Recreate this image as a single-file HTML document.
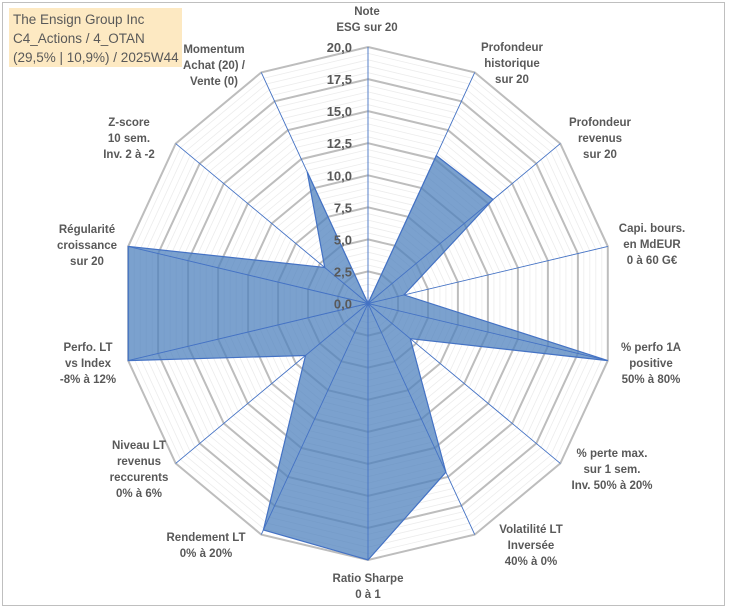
<!DOCTYPE html>
<html><head><meta charset="utf-8"><style>
html,body{margin:0;padding:0;background:#fff;}
body{width:729px;height:610px;position:relative;overflow:hidden;font-family:"Liberation Sans",Arial,sans-serif;}
#frame{position:absolute;left:2px;top:2px;width:723px;height:604px;border:1px solid #bfbfbf;box-sizing:border-box;}
#title{position:absolute;left:9px;top:8px;width:173px;height:59px;background:#fde9c2;color:#595959;font-size:13.5px;line-height:19px;padding:2px 0 0 4px;box-sizing:border-box;white-space:nowrap;font-family:"Liberation Sans Narrow","Liberation Sans",sans-serif;}
.lbl{position:absolute;transform:translateX(-50%);text-align:center;font-weight:bold;font-size:11.5px;line-height:16px;color:#595959;white-space:nowrap;}
</style></head><body>
<div id="frame"></div>
<svg id="chart" width="729" height="610" style="position:absolute;left:0;top:0"></svg>
<div id="title">The Ensign Group Inc<br>C4_Actions / 4_OTAN<br>(29,5% | 10,9%) / 2025W44</div>
<div class="lbl" style="left:367px;top:4px">Note<br>ESG sur 20</div>
<div class="lbl" style="left:512px;top:40px">Profondeur<br>historique<br>sur 20</div>
<div class="lbl" style="left:600px;top:115px">Profondeur<br>revenus<br>sur 20</div>
<div class="lbl" style="left:652px;top:221px">Capi. bours.<br>en MdEUR<br>0 à 60 G€</div>
<div class="lbl" style="left:651px;top:340px">% perfo 1A<br>positive<br>50% à 80%</div>
<div class="lbl" style="left:612px;top:446px">% perte max.<br>sur 1 sem.<br>Inv. 50% à 20%</div>
<div class="lbl" style="left:531px;top:522px">Volatilité LT<br>Inversée<br>40% à 0%</div>
<div class="lbl" style="left:368px;top:571px">Ratio Sharpe<br>0 à 1</div>
<div class="lbl" style="left:206px;top:530px">Rendement LT<br>0% à 20%</div>
<div class="lbl" style="left:139px;top:438px">Niveau LT<br>revenus<br>reccurents<br>0% à 6%</div>
<div class="lbl" style="left:88px;top:340px">Perfo. LT<br>vs Index<br>-8% à 12%</div>
<div class="lbl" style="left:87px;top:222px">Régularité<br>croissance<br>sur 20</div>
<div class="lbl" style="left:129px;top:115px">Z-score<br>10 sem.<br>Inv. 2 à -2</div>
<div class="lbl" style="left:214px;top:42px">Momentum<br>Achat (20) /<br>Vente (0)</div>
<script>
const categories=["Note ESG","Profondeur historique","Profondeur revenus","Capi. bours.","% perfo 1A","% perte max.","Volatilité LT","Ratio Sharpe","Rendement LT","Niveau LT","Perfo. LT","Régularité","Z-score","Momentum"];
const values=[0,12.8,13.0,3.0,20,4.4,14.6,20,19.6,6.5,20,20,4.5,11.4];
const tickLabels=["0,0","2,5","5,0","7,5","10,0","12,5","15,0","17,5","20,0"];
const tickValues=[0,2.5,5,7.5,10,12.5,15,17.5,20];
const maxV=20;
const cx=368,cy=303.5,RX=246,RY=256.5;
const NS="http://www.w3.org/2000/svg";
const svg=document.getElementById('chart');
const N=categories.length;
function ang(i){return i*2*Math.PI/N;}
function px(i,v){return cx+Math.sin(ang(i))*RX*v/maxV;}
function py(i,v){return cy-Math.cos(ang(i))*RY*v/maxV;}
function ring(v){let p=[];for(let i=0;i<N;i++)p.push(px(i,v).toFixed(1)+','+py(i,v).toFixed(1));return p.join(' ');}
for(let k=1;k<=40;k++){const v=k*0.5;if(k%5===0)continue;
 const r=document.createElementNS(NS,'polygon');r.setAttribute('points',ring(v));r.setAttribute('fill','none');r.setAttribute('stroke','#ececec');r.setAttribute('stroke-width','0.8');
 
 
 svg.appendChild(r);}
tickValues.forEach(v=>{if(v===0)return;
 const r=document.createElementNS(NS,'polygon');r.setAttribute('points',ring(v));r.setAttribute('fill','none');r.setAttribute('stroke','#bdbdbd');r.setAttribute('stroke-width','2');
 
 
 svg.appendChild(r);});
let pts=[];for(let i=0;i<N;i++)pts.push(px(i,values[i]).toFixed(1)+','+py(i,values[i]).toFixed(1));
const s=document.createElementNS(NS,'polygon');s.setAttribute('points',pts.join(' '));s.setAttribute('fill','#4f81bd');s.setAttribute('fill-opacity','0.75');s.setAttribute('stroke','#4472c4');s.setAttribute('stroke-width','1.2');


svg.appendChild(s);
for(let i=0;i<N;i++){const l=document.createElementNS(NS,'line');l.setAttribute('x1',cx);l.setAttribute('y1',cy);l.setAttribute('x2',px(i,maxV));l.setAttribute('y2',py(i,maxV));l.setAttribute('stroke','#4472c4');l.setAttribute('stroke-width','0.9');
 
 
 svg.appendChild(l);}
tickValues.forEach((v,k)=>{const t=document.createElementNS(NS,'text');t.setAttribute('x',352);t.setAttribute('y',(cy-RY*v/maxV+5).toFixed(1));t.setAttribute('text-anchor','end');t.setAttribute('font-family','Liberation Sans, sans-serif');t.setAttribute('font-weight','bold');t.setAttribute('font-size','13');t.setAttribute('fill','#595959');t.textContent=tickLabels[k];
 
 
 svg.appendChild(t);});
</script>
</body></html>
